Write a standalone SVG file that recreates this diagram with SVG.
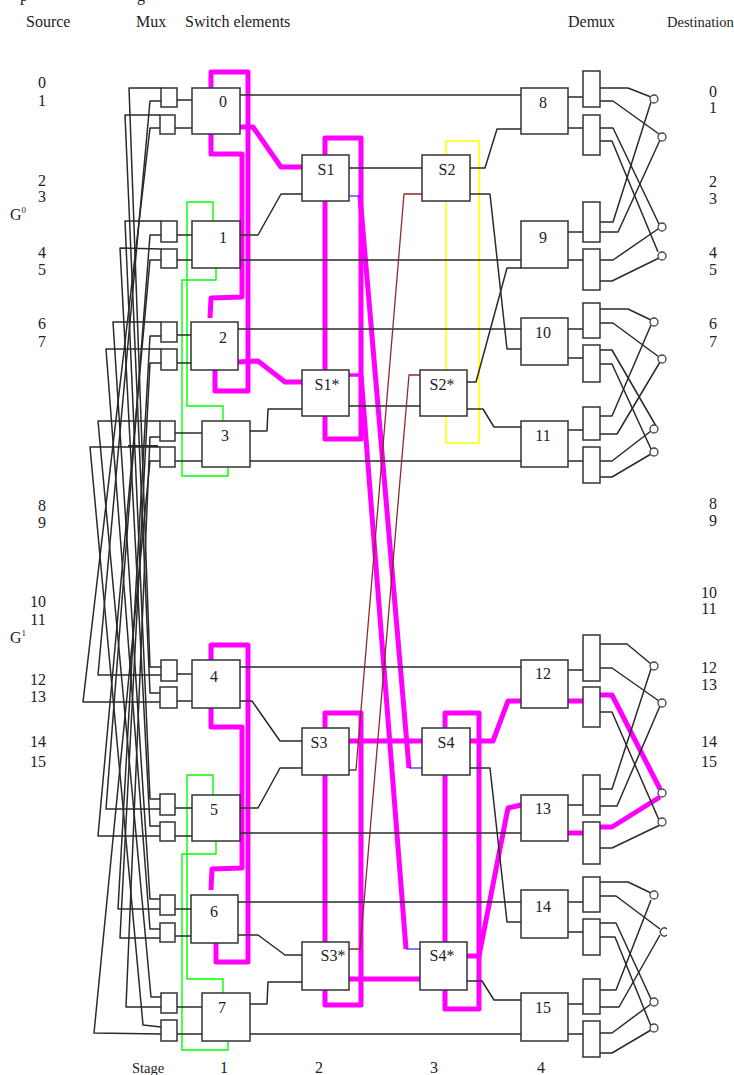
<svg xmlns="http://www.w3.org/2000/svg" width="734" height="1075" viewBox="0 0 734 1075">
<style>
text{font-family:"Liberation Serif","Times New Roman",serif;fill:#222;font-size:16px}
.c{text-anchor:middle}
.h{font-size:14.5px}
.b{fill:#fff;stroke:#333;stroke-width:1.5}
.o{fill:#fff;stroke:#444;stroke-width:1.3}
#connectors polyline,#connectors path{fill:none;stroke-linejoin:round}
.w{stroke:#2a2a2a;stroke-width:1.5}
.m{stroke:#f0f;stroke-width:5}
.n{stroke:#f0f;stroke-width:3.5}
.g{stroke:#0f0;stroke-width:1.4}
.y{stroke:#ff0;stroke-width:1.6}
.r{stroke:#8b2a2a;stroke-width:1.3}
.u{stroke:#22f;stroke-width:1.2}
</style>
<rect width="734" height="1075" fill="#fff"/>
<g id="connectors">
<g id="green-loops">
<polyline class="g" points="213,221 213,202 187,202 187,406 223,406 223,421"/>
<polyline class="g" points="216,268 216,280 182,280 182,476 228,476 228,467"/>
<polyline class="g" points="213,795 213,775 187,775 187,979 223,979 223,993"/>
<polyline class="g" points="216,841 216,854 182,854 182,1050 228,1050 228,1041"/>
</g>
<polyline class="y" points="446,155 446,141 479,141 479,443 446,443 446,416"/>
<polyline class="y" points="446,201 446,370"/>
<g id="magenta-paths">
<polyline class="m" points="211,88 211,72 248,72 248,391 215,391 215,370"/>
<polyline class="m" points="211,134 211,154 242,154 242,297 211,298 210,318"/>
<polyline class="m" points="211,660 211,645 248,645 248,962 216,962 216,943"/>
<polyline class="m" points="211,708 211,727 242,727 242,868 212,869 211,890"/>
<polyline class="m" points="240,127 253,127 281,167 302,167"/>
<polyline class="m" points="238,362 258,361 285,382 302,382"/>
<polyline class="m" points="325,155 325,138 361,138 361,439 325,439 325,416"/>
<polyline class="m" points="325,201 325,370"/>
<polyline class="m" points="325,728 325,713 361,713 361,1005 325,1005 325,990"/>
<polyline class="m" points="325,775 325,942"/>
<polyline class="m" points="445,728 445,713 479,713 479,1009 445,1009 445,990"/>
<polyline class="m" points="445,775 445,942"/>
<polyline class="n" points="349,375 361,375"/>
<polyline class="m" points="360,196 409,768"/>
<polyline class="m" points="361,375 406,949"/>
<polyline class="m" points="349,741 422,741"/>
<polyline class="m" points="349,979 420,979"/>
<polyline class="m" points="470,741 493,741 508,701 521,701"/>
<polyline class="m" points="467,956 479,956 508,808 521,805"/>
<polyline class="m" points="568,701 583,701"/>
<polyline class="m" points="568,833 583,833"/>
<polyline class="m" points="600,695 612,695 660,789"/>
<polyline class="m" points="600,827 612,827 660,797"/>
</g>
<g id="cross-wires">
<polyline class="w" points="161,88 129,88 150,667 161,667"/>
<polyline class="w" points="160,115 125,115 150,693 160,693"/>
<polyline class="w" points="161,221 125,221 150,799 160,799"/>
<polyline class="w" points="161,249 120,248 150,826 160,826"/>
<polyline class="w" points="161,322 113,322 150,899 160,899"/>
<polyline class="w" points="161,349 106,349 150,929 160,929"/>
<polyline class="w" points="160,421 98,421 151,997 161,997"/>
<polyline class="w" points="160,447 90,447 143,1025 161,1027"/>
<polyline class="w" points="161,675 98,675 150,101 161,101"/>
<polyline class="w" points="160,702 83,702 150,128 160,128"/>
<polyline class="w" points="160,809 106,809 150,235 161,235"/>
<polyline class="w" points="160,836 98,836 150,260 161,260"/>
<polyline class="w" points="160,909 118,909 150,336 161,336"/>
<polyline class="w" points="160,938 120,938 150,363 161,363"/>
<polyline class="w" points="161,1007 126,1007 150,437 160,437"/>
<polyline class="w" points="161,1034 94,1033 150,461 160,461"/>
<polyline class="w" style="stroke-width:2" points="128,446 158,446"/>
</g>
<g id="stage-wires">
<polyline class="w" points="177,100 192,100"/><polyline class="w" points="175,128 192,128"/>
<polyline class="w" points="177,235 192,235"/><polyline class="w" points="177,260 192,260"/>
<polyline class="w" points="177,335 191,335"/><polyline class="w" points="177,363 191,363"/>
<polyline class="w" points="175,433 202,433"/><polyline class="w" points="175,461 202,461"/>
<polyline class="w" points="177,674 192,674"/><polyline class="w" points="177,701 192,701"/>
<polyline class="w" points="175,808 192,808"/><polyline class="w" points="175,836 192,836"/>
<polyline class="w" points="175,909 191,909"/><polyline class="w" points="175,936 191,936"/>
<polyline class="w" points="177,1007 202,1007"/><polyline class="w" points="177,1034 202,1034"/>
<polyline class="w" points="240,95 521,95"/>
<polyline class="w" points="240,235 258,235 281,194 302,194"/>
<polyline class="w" points="240,260 521,260"/>
<polyline class="w" points="238,329 521,329"/>
<polyline class="w" points="250,431 267,431 268,409 302,409"/>
<polyline class="w" points="250,461 521,461"/>
<polyline class="w" points="240,667 521,667"/>
<polyline class="w" points="240,701 252,701 280,741 302,741"/>
<polyline class="w" points="240,808 258,808 280,768 302,768"/>
<polyline class="w" points="240,833 521,833"/>
<polyline class="w" points="238,902 521,902"/>
<polyline class="w" points="238,935 258,935 285,955 302,955"/>
<polyline class="w" points="250,1004 267,1004 268,982 302,982"/>
<polyline class="w" points="250,1034 521,1034"/>
<polyline class="w" points="349,168 422,168"/>
<polyline class="w" points="349,406 420,406"/>
<polyline class="w" points="470,168 485,168 497,129 521,129"/>
<polyline class="w" points="470,194 490,194 507,349 521,349"/>
<polyline class="w" points="467,382 476,382 507,268 521,268"/>
<polyline class="w" points="467,409 483,409 494,427 521,427"/>
<polyline class="w" points="470,768 490,768 507,922 521,922"/>
<polyline class="w" points="467,981 482,981 494,1000 521,1000"/>
<polyline class="r" points="422,194 404,194 356,770 349,770"/>
<polyline class="r" points="420,375 409,375 360,949 349,949"/>
<polyline class="u" points="349,196 360,196"/>
<polyline class="u" points="409,768 422,768"/>
<polyline class="u" points="406,949 420,949"/>
</g>
<g id="demux-wires">
<polyline class="w" points="568,97 583,97"/><polyline class="w" points="568,128 583,128"/>
<polyline class="w" points="568,232 583,232"/><polyline class="w" points="568,260 583,260"/>
<polyline class="w" points="568,329 583,329"/><polyline class="w" points="568,358 583,358"/>
<polyline class="w" points="568,430 583,430"/><polyline class="w" points="568,461 583,461"/>
<polyline class="w" points="568,670 583,670"/>
<polyline class="w" points="568,805 583,805"/>
<polyline class="w" points="568,902 583,902"/><polyline class="w" points="568,932 583,932"/>
<polyline class="w" points="568,1004 583,1004"/><polyline class="w" points="568,1034 583,1034"/>
<polyline class="w" points="600,88 628,88 651,97"/>
<polyline class="w" points="600,101 613,101 659,134"/>
<polyline class="w" points="600,128 613,128 659,224"/>
<polyline class="w" points="600,141 612,141 658,252"/>
<polyline class="w" points="600,222 613,222 651,102"/>
<polyline class="w" points="600,232 618,232 660,140"/>
<polyline class="w" points="600,260 613,260 658,229"/>
<polyline class="w" points="600,281 612,281 659,258"/>
<polyline class="w" points="600,309 628,309 651,320"/>
<polyline class="w" points="600,323 613,323 659,357"/>
<polyline class="w" points="600,350 612,350 656,426"/>
<polyline class="w" points="600,364 612,364 651,449"/>
<polyline class="w" points="600,416 612,416 651,325"/>
<polyline class="w" points="600,434 617,434 660,362"/>
<polyline class="w" points="600,461 612,461 651,431"/>
<polyline class="w" points="600,477 612,477 651,454"/>
<polyline class="w" points="600,644 627,644 651,664"/>
<polyline class="w" points="600,668 612,668 659,701"/>
<polyline class="w" points="600,712 612,712 659,820"/>
<polyline class="w" points="600,789 612,789 651,669"/>
<polyline class="w" points="600,806 617,806 660,706"/>
<polyline class="w" points="600,848 612,848 660,825"/>
<polyline class="w" points="600,882 628,882 651,893"/>
<polyline class="w" points="600,896 616,896 660,929"/>
<polyline class="w" points="600,923 616,923 651,999"/>
<polyline class="w" points="600,937 615,937 651,1026"/>
<polyline class="w" points="600,990 616,990 651,900"/>
<polyline class="w" points="600,1007 619,1007 660,935"/>
<polyline class="w" points="600,1033 612,1033 651,1004"/>
<polyline class="w" points="600,1053 612,1053 651,1030"/>
</g>
</g>
<g id="mux">
<rect id="mux-0a" class="b" x="161" y="88" width="16" height="19"/><rect id="mux-0b" class="b" x="160" y="115" width="15" height="19"/>
<rect id="mux-1a" class="b" x="161" y="221" width="16" height="21"/><rect id="mux-1b" class="b" x="161" y="249" width="16" height="19"/>
<rect id="mux-2a" class="b" x="161" y="322" width="16" height="20"/><rect id="mux-2b" class="b" x="161" y="349" width="16" height="21"/>
<rect id="mux-3a" class="b" x="160" y="421" width="15" height="20"/><rect id="mux-3b" class="b" x="160" y="447" width="15" height="20"/>
<rect id="mux-4a" class="b" x="161" y="660" width="16" height="21"/><rect id="mux-4b" class="b" x="160" y="687" width="17" height="21"/>
<rect id="mux-5a" class="b" x="160" y="794" width="15" height="21"/><rect id="mux-5b" class="b" x="160" y="822" width="15" height="19"/>
<rect id="mux-6a" class="b" x="160" y="895" width="15" height="20"/><rect id="mux-6b" class="b" x="160" y="923" width="15" height="19"/>
<rect id="mux-7a" class="b" x="161" y="993" width="16" height="20"/><rect id="mux-7b" class="b" x="161" y="1020" width="16" height="21"/>
</g>
<g id="demux">
<rect id="demux-8a" class="b" x="583" y="71" width="17" height="36"/><rect id="demux-8b" class="b" x="583" y="115" width="17" height="40"/>
<rect id="demux-9a" class="b" x="583" y="202" width="17" height="40"/><rect id="demux-9b" class="b" x="583" y="249" width="17" height="41"/>
<rect id="demux-10a" class="b" x="583" y="303" width="17" height="35"/><rect id="demux-10b" class="b" x="583" y="345" width="17" height="37"/>
<rect id="demux-11a" class="b" x="583" y="407" width="17" height="33"/><rect id="demux-11b" class="b" x="583" y="447" width="17" height="36"/>
<rect id="demux-12a" class="b" x="583" y="635" width="17" height="46"/><rect id="demux-12b" class="b" x="583" y="687" width="17" height="40"/>
<rect id="demux-13a" class="b" x="583" y="775" width="17" height="40"/><rect id="demux-13b" class="b" x="583" y="822" width="17" height="42"/>
<rect id="demux-14a" class="b" x="583" y="877" width="17" height="35"/><rect id="demux-14b" class="b" x="583" y="919" width="17" height="36"/>
<rect id="demux-15a" class="b" x="583" y="979" width="17" height="35"/><rect id="demux-15b" class="b" x="583" y="1021" width="17" height="36"/>
</g>
<g id="outputs">
<circle class="o" cx="654" cy="99" r="4"/><circle class="o" cx="662" cy="137" r="4"/><circle class="o" cx="662" cy="227" r="4"/><circle class="o" cx="662" cy="256" r="4"/>
<circle class="o" cx="654" cy="322" r="4"/><circle class="o" cx="662" cy="359" r="4"/><circle class="o" cx="654" cy="429" r="4"/><circle class="o" cx="654" cy="452" r="4"/>
<circle class="o" cx="654" cy="666" r="4"/><circle class="o" cx="662" cy="703" r="4"/><circle class="o" cx="662" cy="793" r="4"/><circle class="o" cx="662" cy="822" r="4"/>
<circle class="o" cx="654" cy="895" r="4"/><path class="o" d="M667 929A4 4 0 1 0 667 935" /><circle class="o" cx="654" cy="1002" r="4"/><circle class="o" cx="654" cy="1028" r="4"/>
</g>
<g id="n0"><rect class="b" x="192" y="88" width="48" height="46"/><text class="c" x="223" y="107">0</text></g>
<g id="n1"><rect class="b" x="192" y="221" width="48" height="47"/><text class="c" x="223" y="243">1</text></g>
<g id="n2"><rect class="b" x="191" y="322" width="47" height="48"/><text class="c" x="223" y="343">2</text></g>
<g id="n3"><rect class="b" x="202" y="421" width="48" height="46"/><text class="c" x="225" y="441">3</text></g>
<g id="n4"><rect class="b" x="192" y="660" width="48" height="48"/><text class="c" x="214" y="682">4</text></g>
<g id="n5"><rect class="b" x="192" y="795" width="48" height="46"/><text class="c" x="214" y="815">5</text></g>
<g id="n6"><rect class="b" x="191" y="895" width="47" height="48"/><text class="c" x="214" y="917">6</text></g>
<g id="n7"><rect class="b" x="202" y="993" width="48" height="48"/><text class="c" x="222" y="1013">7</text></g>
<g id="nS1"><rect class="b" x="302" y="155" width="47" height="46"/><text class="c" x="326" y="175">S1</text></g>
<g id="nS1s"><rect class="b" x="302" y="370" width="47" height="46"/><text class="c" x="327" y="390">S1*</text></g>
<g id="nS2"><rect class="b" x="422" y="155" width="48" height="46"/><text class="c" x="447" y="175">S2</text></g>
<g id="nS2s"><rect class="b" x="420" y="370" width="47" height="46"/><text class="c" x="442" y="390">S2*</text></g>
<g id="nS3"><rect class="b" x="302" y="728" width="47" height="47"/><text class="c" x="319" y="748">S3</text></g>
<g id="nS3s"><rect class="b" x="302" y="942" width="47" height="48"/><text class="c" x="333" y="961">S3*</text></g>
<g id="nS4"><rect class="b" x="422" y="728" width="48" height="47"/><text class="c" x="446" y="748">S4</text></g>
<g id="nS4s"><rect class="b" x="420" y="942" width="47" height="48"/><text class="c" x="442" y="961">S4*</text></g>
<g id="n8"><rect class="b" x="521" y="88" width="47" height="46"/><text class="c" x="543" y="108">8</text></g>
<g id="n9"><rect class="b" x="521" y="221" width="47" height="47"/><text class="c" x="543" y="243">9</text></g>
<g id="n10"><rect class="b" x="521" y="318" width="47" height="47"/><text class="c" x="543" y="338">10</text></g>
<g id="n11"><rect class="b" x="521" y="421" width="47" height="46"/><text class="c" x="543" y="441">11</text></g>
<g id="n12"><rect class="b" x="521" y="660" width="47" height="48"/><text class="c" x="543" y="679">12</text></g>
<g id="n13"><rect class="b" x="521" y="795" width="47" height="46"/><text class="c" x="543" y="814">13</text></g>
<g id="n14"><rect class="b" x="521" y="890" width="47" height="48"/><text class="c" x="543" y="912">14</text></g>
<g id="n15"><rect class="b" x="521" y="993" width="47" height="48"/><text class="c" x="543" y="1013">15</text></g>
<g id="headers">
<text x="20" y="1">p</text><text x="137" y="1">g</text>
<text x="26" y="27">Source</text><text x="136" y="27">Mux</text><text x="185" y="27">Switch elements</text>
<text x="568" y="27">Demux</text><text x="667" y="27" class="h">Destination</text>
<text x="132" y="1073" class="h">Stage</text>
<text class="c" x="224" y="1073">1</text><text class="c" x="319" y="1073">2</text><text class="c" x="434" y="1073">3</text><text class="c" x="541" y="1073">4</text>
</g>
<g id="source-labels">
<text class="c" x="42" y="88">0</text><text class="c" x="42" y="106">1</text><text class="c" x="42" y="186">2</text><text class="c" x="42" y="202">3</text>
<text class="c" x="42" y="258">4</text><text class="c" x="42" y="275">5</text><text class="c" x="42" y="329">6</text><text class="c" x="42" y="347">7</text>
<text class="c" x="42" y="511">8</text><text class="c" x="42" y="528">9</text>
<text class="c" x="38" y="607">10</text><text class="c" x="38" y="625">11</text><text class="c" x="38" y="685">12</text><text class="c" x="38" y="702">13</text><text class="c" x="38" y="747">14</text><text class="c" x="38" y="767">15</text>
<text x="10" y="220">G<tspan font-size="9" dy="-7">0</tspan></text>
<text x="10" y="643">G<tspan font-size="9" dy="-7">1</tspan></text>
</g>
<g id="dest-labels">
<text class="c" x="713" y="97">0</text><text class="c" x="713" y="113">1</text><text class="c" x="713" y="187">2</text><text class="c" x="713" y="204">3</text>
<text class="c" x="713" y="258">4</text><text class="c" x="713" y="275">5</text><text class="c" x="713" y="329">6</text><text class="c" x="713" y="347">7</text>
<text class="c" x="713" y="509">8</text><text class="c" x="713" y="526">9</text>
<text class="c" x="709" y="598">10</text><text class="c" x="709" y="614">11</text><text class="c" x="709" y="673">12</text><text class="c" x="709" y="690">13</text><text class="c" x="709" y="747">14</text><text class="c" x="709" y="767">15</text>
</g>
</svg>
